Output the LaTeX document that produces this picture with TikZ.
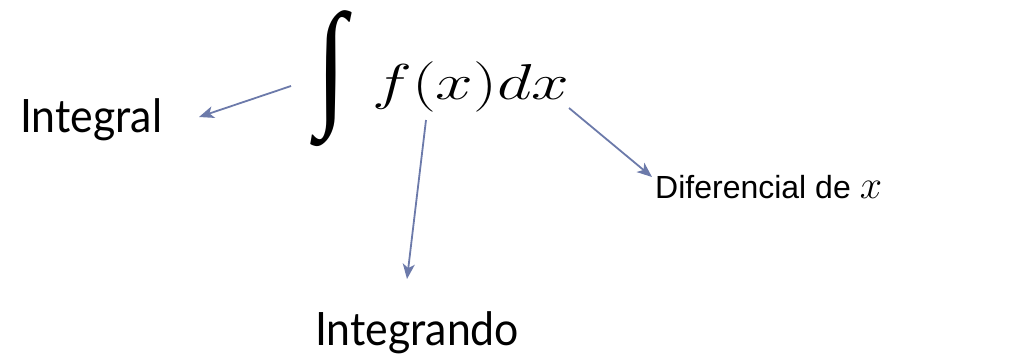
\RequirePackage{fix-cm}
\documentclass[tikz,border=0pt]{standalone}
\usepackage{fontspec}
\usepackage{graphicx}
\usetikzlibrary{arrows.meta}
\newfontfamily\gillfont{Lato}
\newfontfamily\arialfont{Liberation Sans}
\newfontfamily\intfont{Liberation Serif}
\definecolor{arrowblue}{RGB}{108,122,170}
\tikzset{
  lbl/.style={inner sep=0pt, anchor=base west, text=black},
  gill/.style={font=\gillfont\fontsize{46}{50}\selectfont},
  callout/.style={draw=arrowblue, line width=1.8pt,
    -{Stealth[length=15pt,width=12pt,inset=4pt]}}
}
\begin{document}
\begin{tikzpicture}[x=1pt,y=-1pt]
\useasboundingbox (0,0) rectangle (1011,356);
% formula
\node[inner sep=0pt, anchor=north west] (int) at (316,10)
  {\resizebox*{30pt}{136pt}{\intfont\fontsize{100}{110}\selectfont ∫}};
\node[lbl] (fx) at (372,99)
  {\scalebox{1.3}[0.97]{\fontsize{52}{58}\selectfont$f(x)dx$}};
% labels
\node[lbl, gill] (integral) at (20,132) {\scalebox{0.93}[1]{Integral}};
\node[lbl, gill] (integrando) at (315,345) {\scalebox{0.93}[1]{Integrando}};
\node[lbl] (dif) at (655,198) {\arialfont\fontsize{32}{36}\selectfont Diferencial de \fontsize{40}{44}\selectfont$x$};
% connector ends
\coordinate (a1s) at (291,86);
\coordinate (a1e) at (199,117);
\coordinate (a2s) at (426,120);
\coordinate (a2e) at (407,279);
\coordinate (a3s) at (569,108);
\coordinate (a3e) at (652,177);
\draw[callout] (a1s) -- (a1e);
\draw[callout] (a2s) -- (a2e);
\draw[callout] (a3s) -- (a3e);
\end{tikzpicture}
\end{document}
